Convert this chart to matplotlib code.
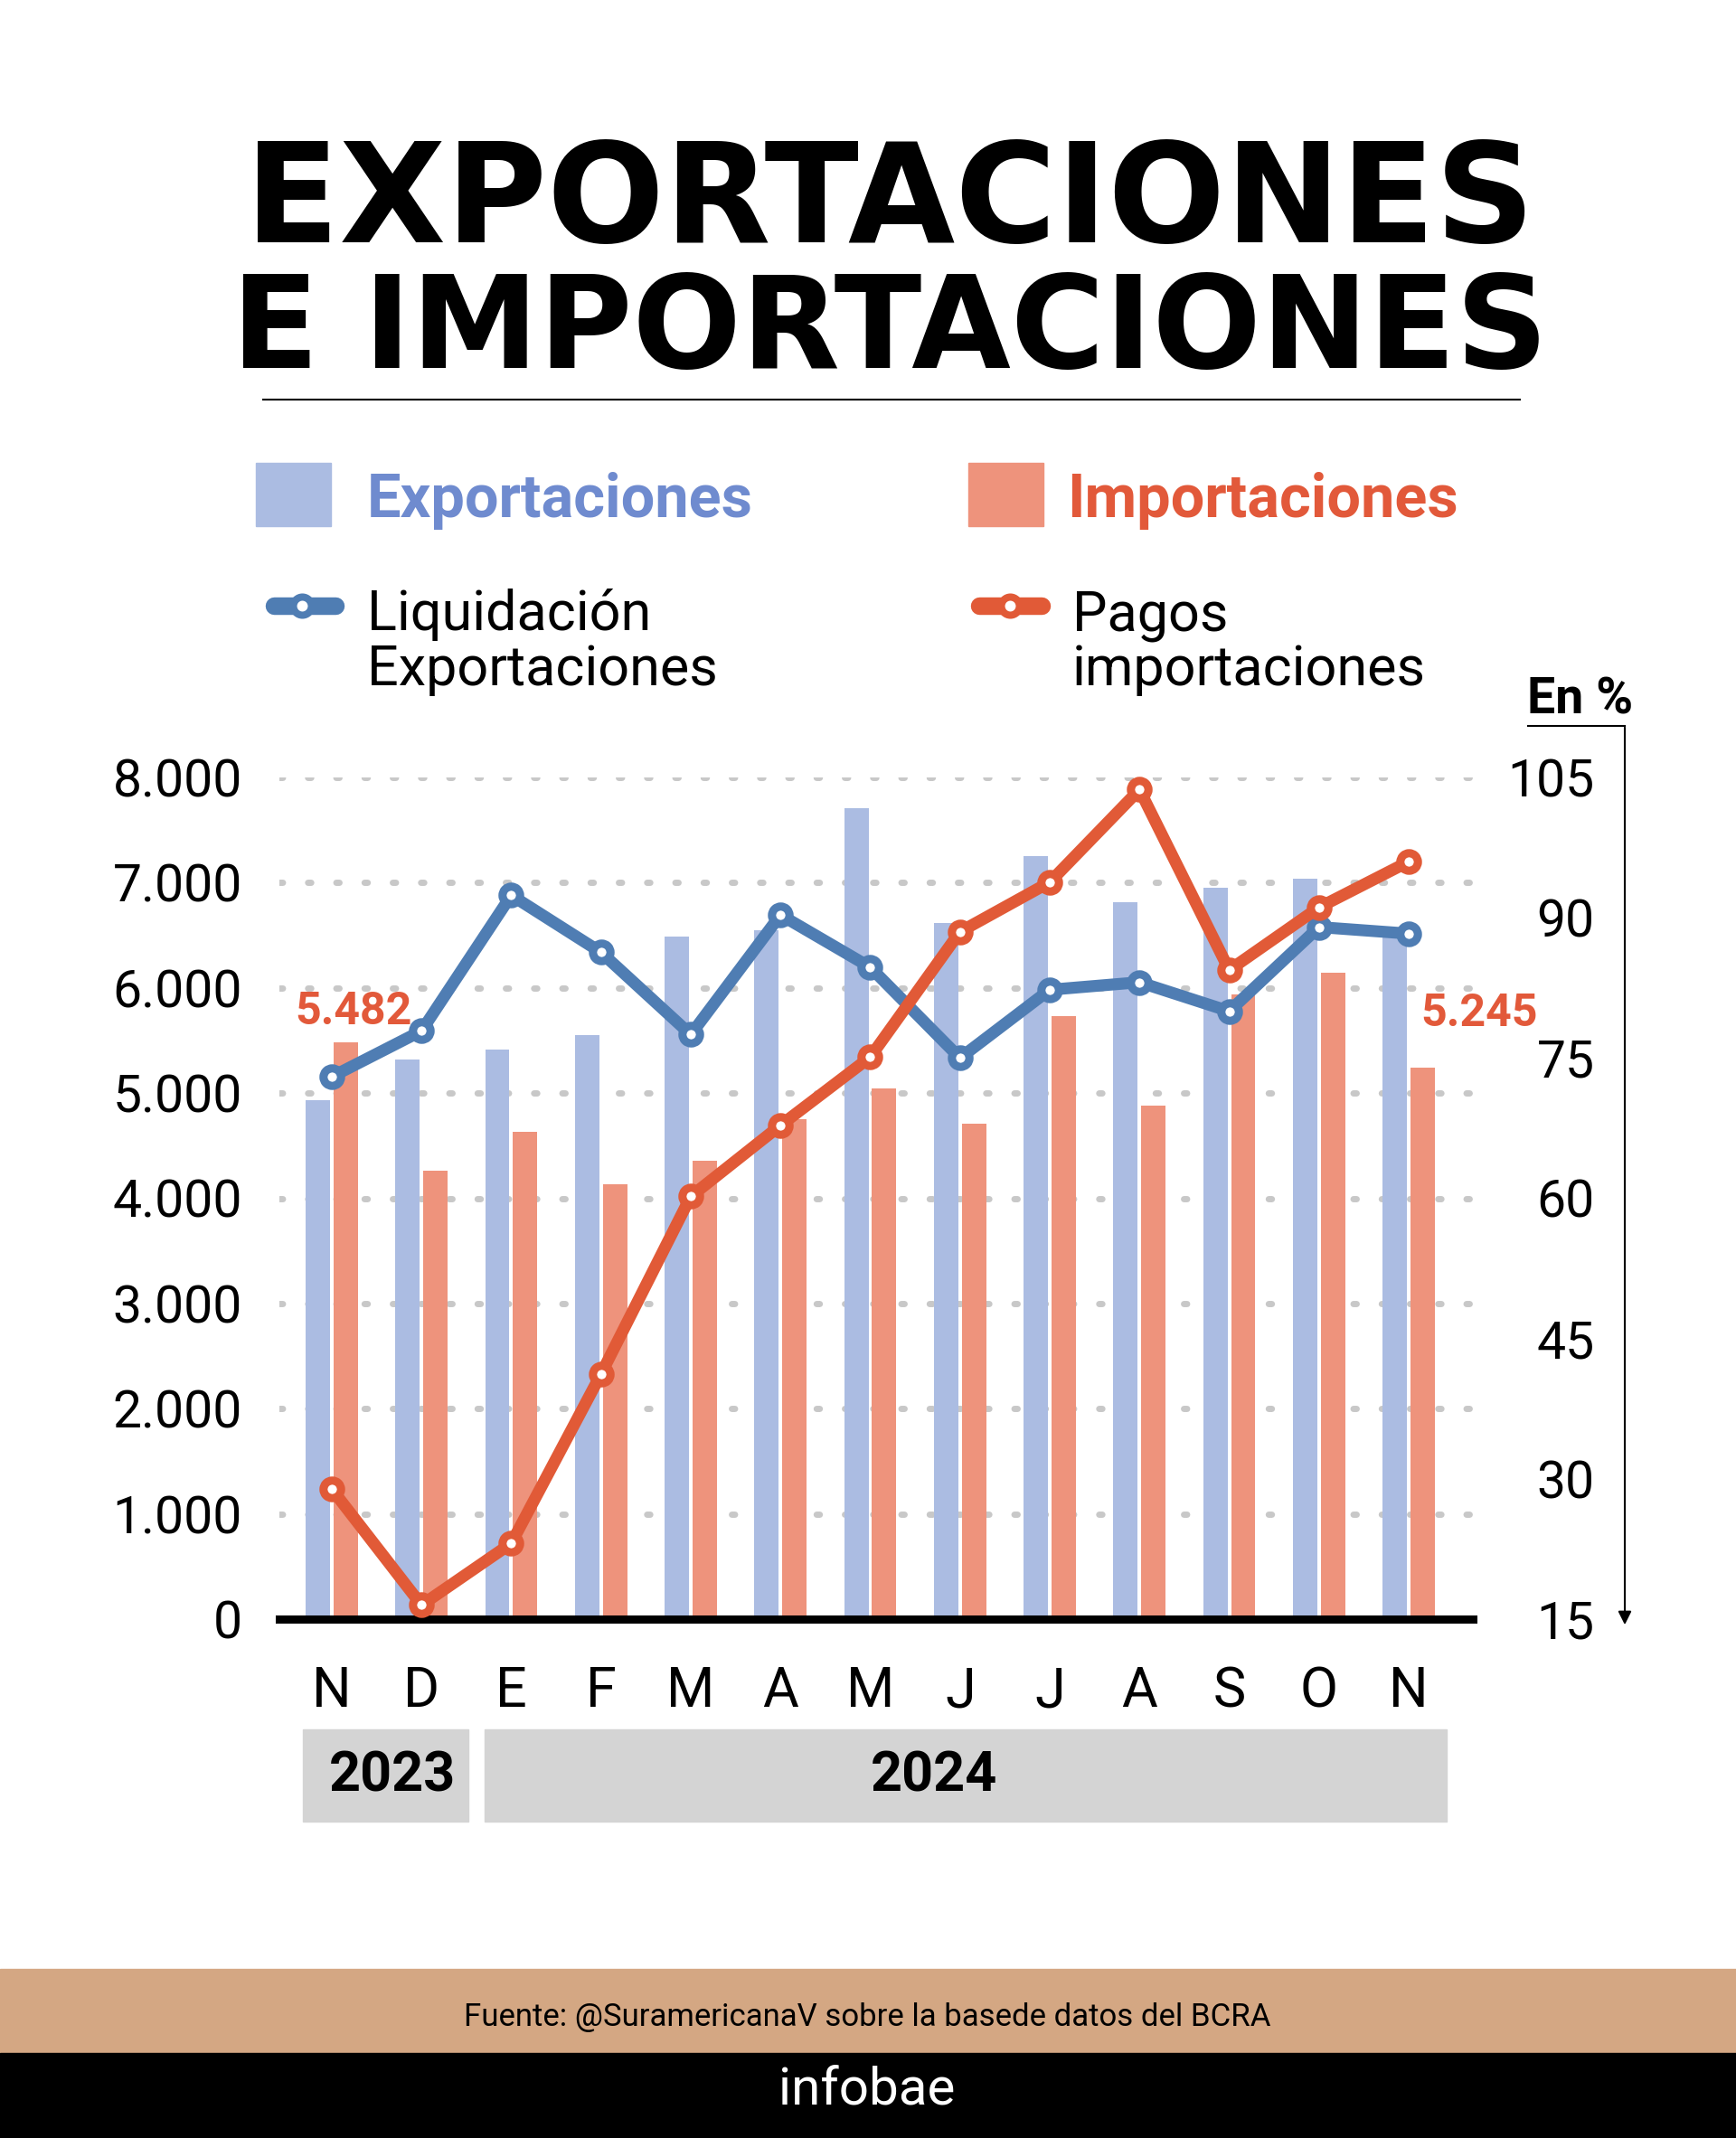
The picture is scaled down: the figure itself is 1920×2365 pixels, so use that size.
import numpy as np
import matplotlib
matplotlib.use("Agg")
import matplotlib.pyplot as plt
from matplotlib.patches import Rectangle

W, H = 1920, 2365

# --- data ---
months = ["N", "D", "E", "F", "M", "A", "M", "J", "J", "A", "S", "O", "N"]
exportaciones = [4930, 5320, 5410, 5550, 6490, 6550, 7710, 6620, 7250, 6810, 6950, 7040, 6500]
importaciones = [5482, 4260, 4630, 4130, 4360, 4750, 5040, 4710, 5730, 4880, 5940, 6140, 5245]
liquidacion_pct = [73.0, 77.9, 92.4, 86.3, 77.5, 90.3, 84.7, 75.0, 82.3, 83.1, 80.0, 89.0, 88.3]
pagos_pct = [28.9, 16.5, 23.1, 41.2, 60.2, 67.8, 75.1, 88.5, 93.8, 103.7, 84.4, 91.1, 96.0]
left_ticks = [0, 1000, 2000, 3000, 4000, 5000, 6000, 7000, 8000]
left_ticklabels = ["0", "1.000", "2.000", "3.000", "4.000", "5.000", "6.000", "7.000", "8.000"]
right_ticks = [15, 30, 45, 60, 75, 90, 105]
first_label, last_label = "5.482", "5.245"

BAR_BLUE = "#abbce2"
BAR_SALMON = "#ee937c"
LINE_BLUE = "#4f7db3"
LINE_RED = "#e15a37"
TXT_BLUE = "#6f8bcf"
TXT_RED = "#e2593a"

plt.rcParams["font.family"] = ["Roboto", "DejaVu Sans"]


def frac(x0, y0, x1, y1):
    """pixel box (top-left origin) -> figure fraction rect"""
    return [x0 / W, 1 - y1 / H, (x1 - x0) / W, (y1 - y0) / H]


fig = plt.figure(figsize=(W / 100, H / 100), dpi=100)

# decoration layer in pixel coords
deco = fig.add_axes([0, 0, 1, 1])
deco.set_xlim(0, W)
deco.set_ylim(H, 0)
deco.axis("off")
deco.set_zorder(0)

# title
deco.text(984, 268, "EXPORTACIONES", ha="center", va="baseline", fontsize=110,
          fontweight="bold", family="DejaVu Sans")
deco.text(984, 407, "E IMPORTACIONES", ha="center", va="baseline", fontsize=102,
          fontweight="bold", family="DejaVu Sans")
deco.plot([291, 1681], [442, 442], color="black", lw=1.5)

# legend
deco.add_patch(Rectangle((283, 512), 83, 70, color=BAR_BLUE))
deco.text(406, 572, "Exportaciones", color=TXT_BLUE, fontsize=48, fontweight="bold", va="baseline")
deco.add_patch(Rectangle((1071, 512), 83, 70, color=BAR_SALMON))
deco.text(1180, 572, "Importaciones", color=TXT_RED, fontsize=48, fontweight="bold", va="baseline")

for (x0, x1, xm, c) in [(303, 371, 334, LINE_BLUE), (1083, 1152, 1117, LINE_RED)]:
    deco.plot([x0, x1], [670, 670], color=c, lw=14, solid_capstyle="round")
    deco.plot([xm], [670], marker="o", ms=14.4, mfc="white", mec=c, mew=5.8)
deco.text(406, 697, "Liquidación", fontsize=44, va="baseline")
deco.text(406, 758, "Exportaciones", fontsize=44, va="baseline")
deco.text(1186, 697, "Pagos", fontsize=44, va="baseline")
deco.text(1186, 758, "importaciones", fontsize=44, va="baseline")

# right axis marker
deco.text(1689, 789, "En %", fontsize=40, fontweight="bold", va="baseline")
deco.plot([1690, 1797], [803, 803], color="black", lw=1.5)
deco.annotate("", xy=(1797, 1800), xytext=(1797, 802),
              arrowprops=dict(arrowstyle="-|>", lw=1.5, color="black", mutation_scale=22))

# year boxes
deco.add_patch(Rectangle((335, 1913), 183, 102, color="#d4d4d4"))
deco.add_patch(Rectangle((536, 1913), 1064, 102, color="#d4d4d4"))
deco.text(434, 1964, "2023", fontsize=44, fontweight="bold", ha="center", va="center")
deco.text(1033, 1964, "2024", fontsize=44, fontweight="bold", ha="center", va="center")

# footer
deco.add_patch(Rectangle((0, 2178), W, 93, color="#d4a783"))
deco.add_patch(Rectangle((0, 2271), W, 94, color="black"))
deco.text(959, 2232, "Fuente: @SuramericanaV sobre la basede datos del BCRA",
          fontsize=25, ha="center", va="center")
deco.text(959, 2312, "infobae", fontsize=42, color="white", ha="center", va="center")

# --- main chart ---
ax = fig.add_axes(frac(309, 860, 1629, 1791))
ax.set_zorder(2)
ax.patch.set_alpha(0)
x = np.arange(len(months))
ax.bar(x - 0.155, exportaciones, width=0.27, color=BAR_BLUE, zorder=2)
ax.bar(x + 0.155, importaciones, width=0.27, color=BAR_SALMON, zorder=2)
ax.set_xlim(-0.584, 12.715)
ax.set_ylim(0, 8000)
ax.set_yticks(left_ticks, left_ticklabels)
ax.set_xticks(x, months)
ax.tick_params(axis="y", length=0, pad=29.5, labelsize=41)
ax.tick_params(axis="x", length=0, pad=37, labelsize=44)
ax.grid(axis="y", color="#c8c8c8", lw=5, linestyle=(0, (0.5, 4.0)), dash_capstyle="round")
ax.set_axisbelow(True)
for s in ["top", "left", "right"]:
    ax.spines[s].set_visible(False)
ax.spines["bottom"].set_linewidth(6.5)
ax.spines["bottom"].set_zorder(2.5)

ax.annotate(first_label, xy=(0.155, importaciones[0]), xytext=(9, 20), textcoords="offset pixels",
            ha="center", va="baseline", color=TXT_RED, fontsize=36, fontweight="bold")
ax.annotate(last_label, xy=(12.155, importaciones[-1]), xytext=(63, 46), textcoords="offset pixels",
            ha="center", va="baseline", color=TXT_RED, fontsize=36, fontweight="bold")

ax2 = ax.twinx()
ax2.set_zorder(3)
ax2.set_ylim(15, 105)
ax2.set_yticks(right_ticks, [str(t) for t in right_ticks])
ax2.tick_params(axis="y", length=0, pad=97, labelsize=41)
for lbl in ax2.get_yticklabels():
    lbl.set_horizontalalignment("right")
for s in ax2.spines.values():
    s.set_visible(False)

ax2.plot(x, liquidacion_pct, color=LINE_BLUE, lw=9.5, marker="o", ms=14, mfc="white",
         mec=LINE_BLUE, mew=6.5, solid_joinstyle="round", solid_capstyle="round",
         zorder=3, clip_on=False)
ax2.plot(x, pagos_pct, color=LINE_RED, lw=9.5, marker="o", ms=14, mfc="white",
         mec=LINE_RED, mew=6.5, solid_joinstyle="round", solid_capstyle="round",
         zorder=4, clip_on=False)

fig.savefig("out.png", dpi=100, facecolor="white")
